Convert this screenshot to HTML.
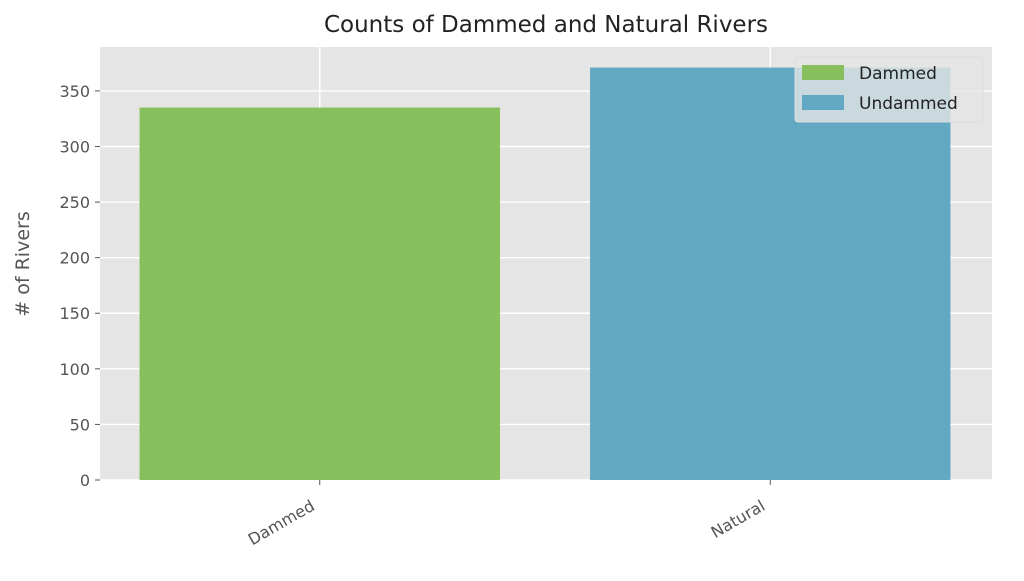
<!DOCTYPE html>
<html><head><meta charset="utf-8"><style>
body{margin:0;background:#fff;}
svg{font-family:"DejaVu Sans","Liberation Sans",sans-serif;}
</style></head><body>
<svg id="c" width="1024" height="576"></svg>
<script>
const categories=["Dammed","Natural"];
const values=[335,371];
const colors=["#86bf5b","#62a8c2"];
const legendLabels=["Dammed","Undammed"];
const yTicks=[0,50,100,150,200,250,300,350];
const NS="http://www.w3.org/2000/svg";
const svg=document.getElementById('c');
const L=100,R=992,T=47,B=480;
const xmin=-0.49,xmax=1.49,ymax=389.5;
const x=v=>L+(v-xmin)/(xmax-xmin)*(R-L)-1;
const y=v=>B-v/ymax*(B-T);
function mk(tag,attrs,txt){const e=document.createElementNS(NS,tag);for(const k in attrs)e.setAttribute(k,attrs[k]);if(txt!=null)e.textContent=txt;svg.appendChild(e);return e;}
let e=mk('rect',{x:L,y:T,width:R-L,height:B-T,fill:'#e5e5e5'});


yTicks.forEach(t=>{
 let g=mk('line',{x1:L,x2:R,y1:y(t),y2:y(t),stroke:'#fff','stroke-width':1.4});
 
 
 let tk=mk('line',{x1:L-5,x2:L,y1:y(t),y2:y(t),stroke:'#555','stroke-width':1});
 
 
 let lb=mk('text',{x:L-10,y:y(t)+6,'text-anchor':'end','font-size':16,fill:'#555'},t);
 
 
});
categories.forEach((c,i)=>{
 let g=mk('line',{x1:x(i),x2:x(i),y1:T,y2:B,stroke:'#fff','stroke-width':1.4});
 
 
});
categories.forEach((c,i)=>{
 let b=mk('rect',{x:x(i-0.4),y:y(values[i]),width:x(i+0.4)-x(i-0.4),height:B-y(values[i]),fill:colors[i]});
 
 
 let tk=mk('line',{x1:x(i),x2:x(i),y1:B,y2:B+5,stroke:'#555','stroke-width':1});
 
 
 let ax=x(i)-4, ay=B+29;
 let lb=mk('text',{x:ax,y:ay,'text-anchor':'end','font-size':16,fill:'#555',transform:`rotate(-30 ${ax} ${ay})`},c);
 
 
});
let t=mk('text',{x:546,y:32,'text-anchor':'middle','font-size':23,fill:'#222'},'Counts of Dammed and Natural Rivers');


let yl=mk('text',{x:29,y:264,'text-anchor':'middle','font-size':19,fill:'#555',transform:'rotate(-90 29 264)'},'# of Rivers');


let lg=mk('rect',{x:795,y:57,width:188,height:65,rx:3,fill:'#e5e5e5','fill-opacity':0.8,stroke:'#ddd'});


legendLabels.forEach((l,i)=>{
 let s=mk('rect',{x:802,y:65+i*30,width:42,height:15,fill:colors[i]});
 
 
 let tx=mk('text',{x:859,y:79+i*30,'font-size':17,fill:'#222'},l);
 
 
});
</script>
</body></html>
